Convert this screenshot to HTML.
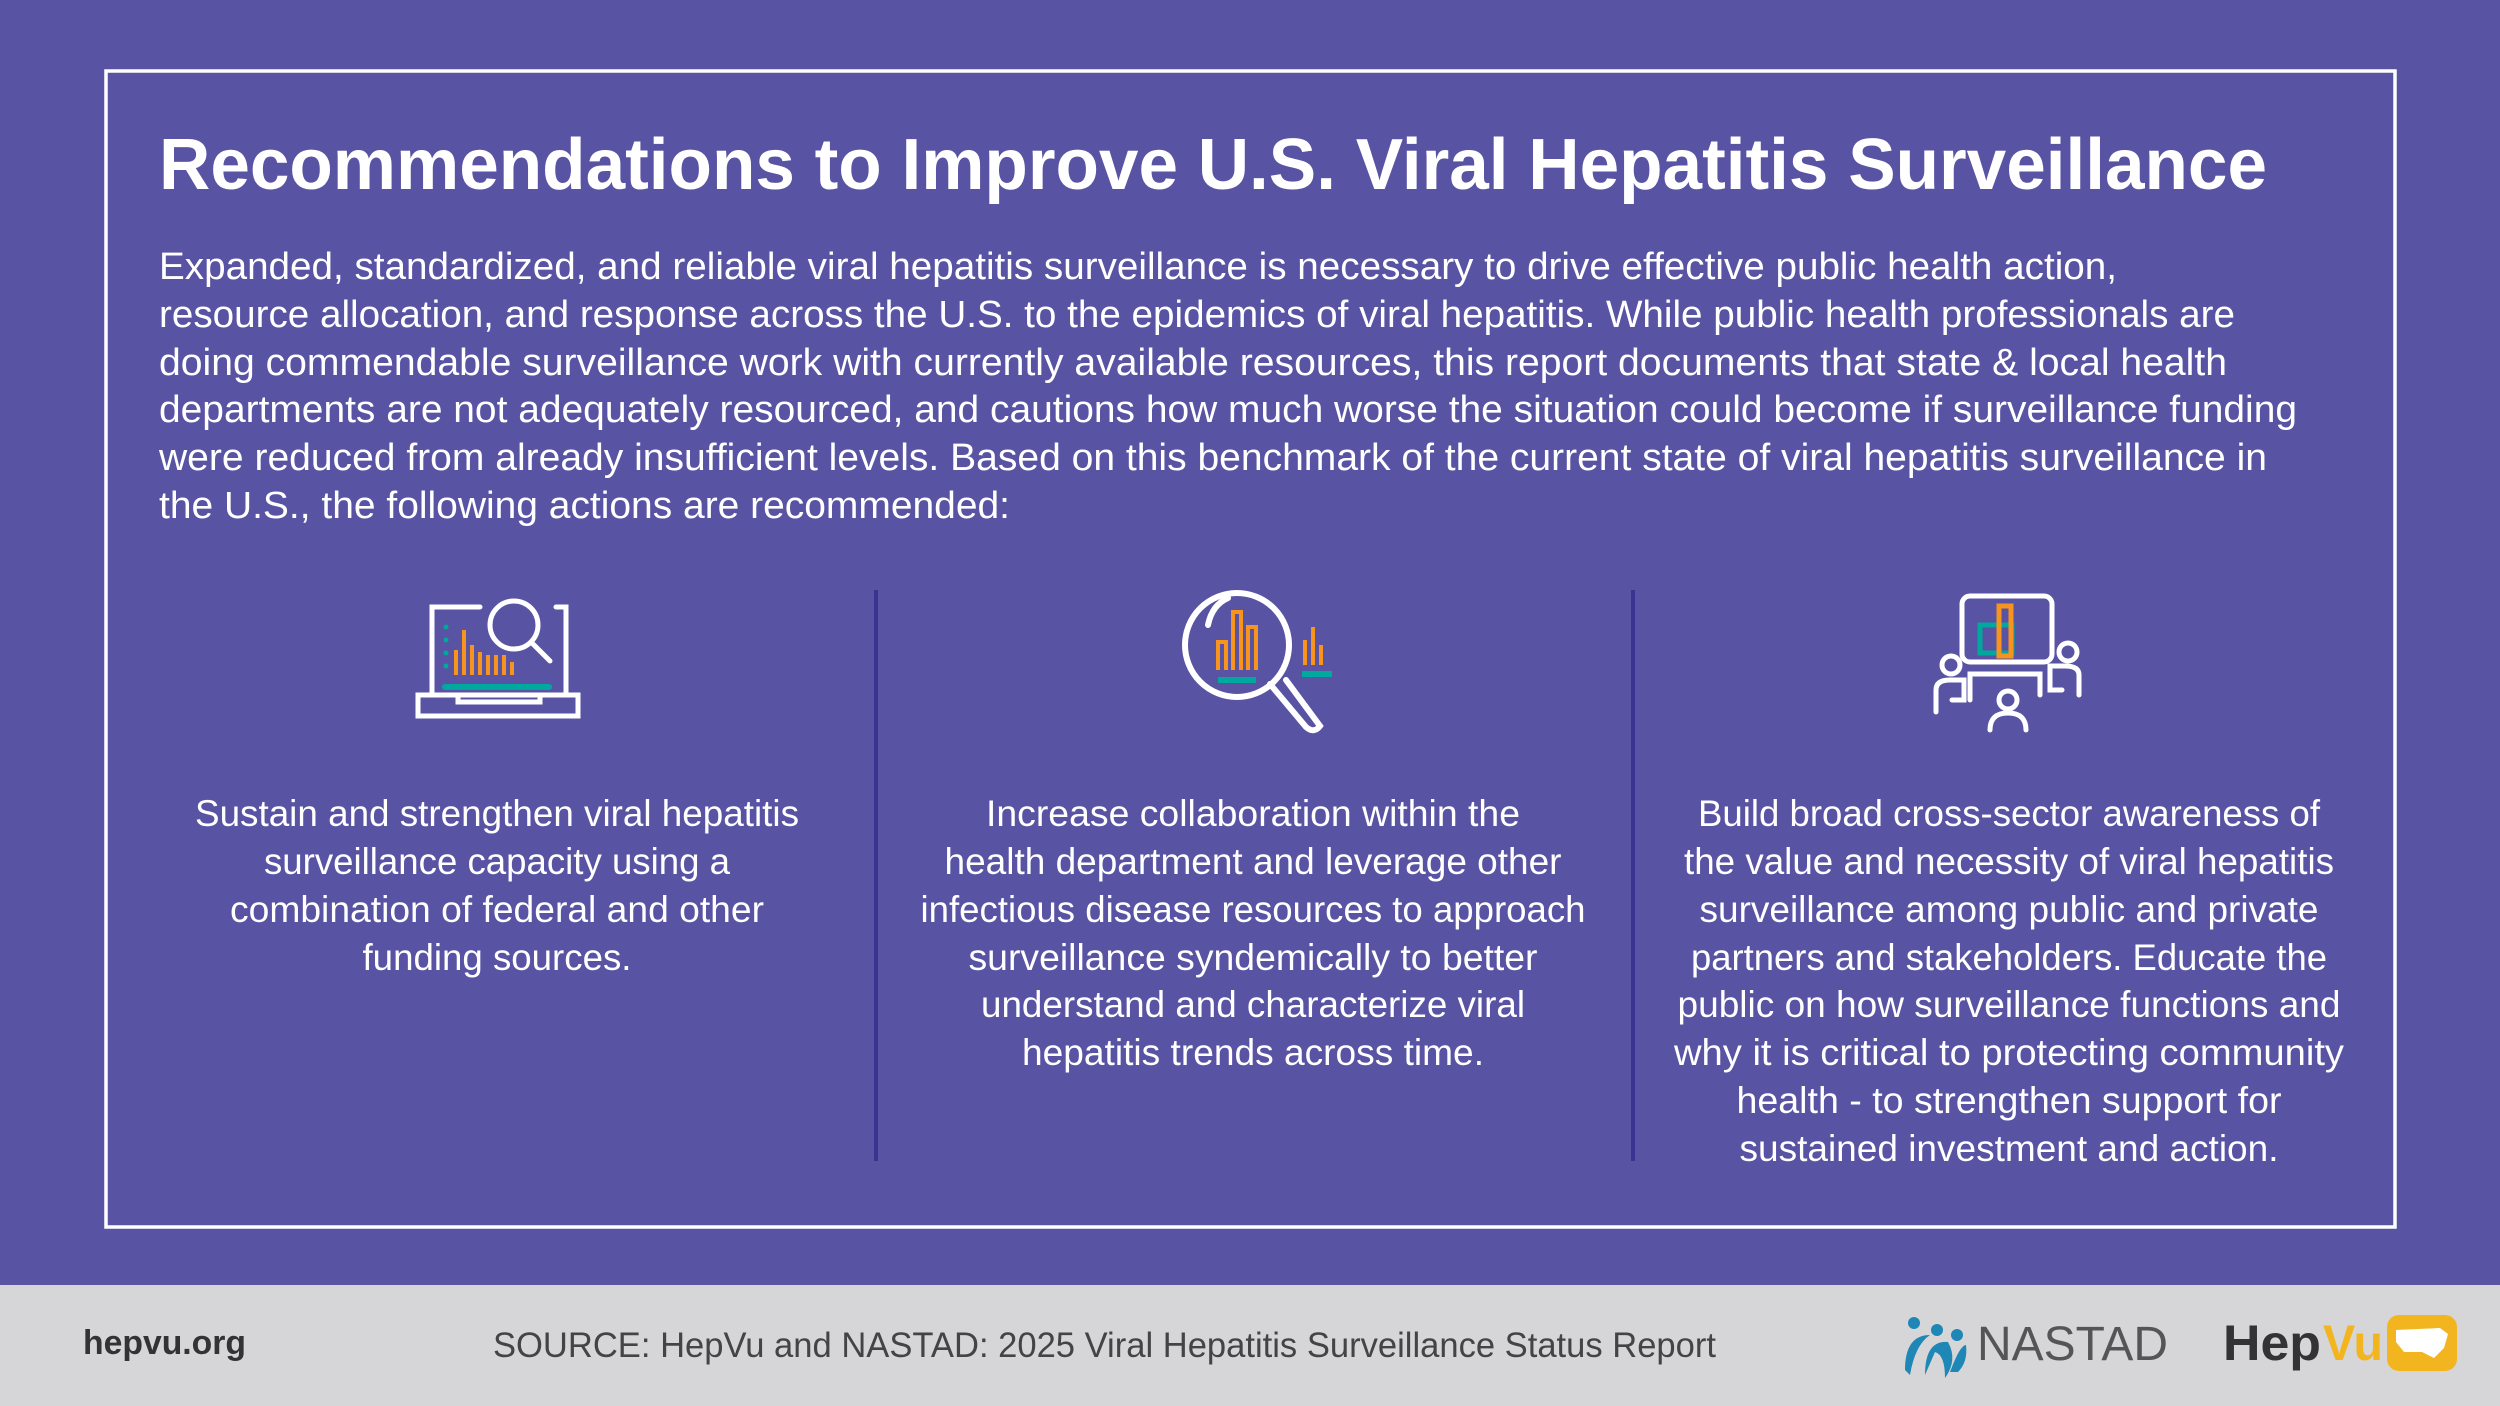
<!DOCTYPE html>
<html><head><meta charset="utf-8"><style>html,body{margin:0;padding:0;background:#5953a4}svg{display:block}</style></head>
<body>
<svg width="2500" height="1406" viewBox="0 0 2500 1406" xmlns="http://www.w3.org/2000/svg" font-family="Liberation Sans, sans-serif">
<rect width="2500" height="1406" fill="#5953a4"/>
<rect x="106" y="71" width="2289" height="1156" fill="none" stroke="#fff" stroke-width="3.5"/>
<text x="159" y="189" font-size="72" font-weight="bold" fill="#fff" textLength="2108" lengthAdjust="spacingAndGlyphs">Recommendations to Improve U.S. Viral Hepatitis Surveillance</text>
<g fill="#fff" font-size="38">
<text x="159" y="279" textLength="1958" lengthAdjust="spacingAndGlyphs">Expanded, standardized, and reliable viral hepatitis surveillance is necessary to drive effective public health action,</text>
<text x="159" y="327" textLength="2076" lengthAdjust="spacingAndGlyphs">resource allocation, and response across the U.S. to the epidemics of viral hepatitis. While public health professionals are</text>
<text x="159" y="375" textLength="2068" lengthAdjust="spacingAndGlyphs">doing commendable surveillance work with currently available resources, this report documents that state &amp; local health</text>
<text x="159" y="422" textLength="2138" lengthAdjust="spacingAndGlyphs">departments are not adequately resourced, and cautions how much worse the situation could become if surveillance funding</text>
<text x="159" y="470" textLength="2108" lengthAdjust="spacingAndGlyphs">were reduced from already insufficient levels.  Based on this benchmark of the current state of viral hepatitis surveillance in</text>
<text x="159" y="518" textLength="851" lengthAdjust="spacingAndGlyphs">the U.S., the following actions are  recommended:</text>
</g>
<line x1="876" y1="590" x2="876" y2="1161" stroke="#3b3390" stroke-width="4"/>
<line x1="1633" y1="590" x2="1633" y2="1161" stroke="#3b3390" stroke-width="4"/>
<g fill="#fff" font-size="37" text-anchor="middle" lengthAdjust="spacingAndGlyphs">
<text x="497" y="826" textLength="604" lengthAdjust="spacingAndGlyphs">Sustain and strengthen viral hepatitis</text>
<text x="497" y="874" textLength="466" lengthAdjust="spacingAndGlyphs">surveillance capacity using a</text>
<text x="497" y="922" textLength="534" lengthAdjust="spacingAndGlyphs">combination of federal and other</text>
<text x="497" y="970" textLength="269" lengthAdjust="spacingAndGlyphs">funding sources.</text>
<text x="1253" y="826" textLength="534" lengthAdjust="spacingAndGlyphs">Increase collaboration within the</text>
<text x="1253" y="874" textLength="617" lengthAdjust="spacingAndGlyphs">health department and leverage other</text>
<text x="1253" y="922" textLength="665" lengthAdjust="spacingAndGlyphs">infectious disease resources to approach</text>
<text x="1253" y="970" textLength="569" lengthAdjust="spacingAndGlyphs">surveillance syndemically to better</text>
<text x="1253" y="1017" textLength="544" lengthAdjust="spacingAndGlyphs">understand and characterize viral</text>
<text x="1253" y="1065" textLength="462" lengthAdjust="spacingAndGlyphs">hepatitis trends across time.</text>
<text x="2009" y="826" textLength="622" lengthAdjust="spacingAndGlyphs">Build broad cross-sector awareness of</text>
<text x="2009" y="874" textLength="650" lengthAdjust="spacingAndGlyphs">the value and necessity of viral hepatitis</text>
<text x="2009" y="922" textLength="619" lengthAdjust="spacingAndGlyphs">surveillance among public and private</text>
<text x="2009" y="970" textLength="636" lengthAdjust="spacingAndGlyphs">partners and stakeholders. Educate the</text>
<text x="2009" y="1017" textLength="663" lengthAdjust="spacingAndGlyphs">public on how surveillance functions and</text>
<text x="2009" y="1065" textLength="670" lengthAdjust="spacingAndGlyphs">why it is critical to protecting community</text>
<text x="2009" y="1113" textLength="545" lengthAdjust="spacingAndGlyphs">health - to strengthen support for</text>
<text x="2009" y="1161" textLength="539" lengthAdjust="spacingAndGlyphs">sustained investment and action.</text>
</g>
<!-- icon 1 laptop -->
<g fill="none" stroke="#fff" stroke-width="5" stroke-linecap="round">
<path d="M480 607 H432 V695 H566 V607 H556"/>
<path d="M418 695 V716 H578 V695 H540 V702 H458 V695 Z"/>
<circle cx="514" cy="625" r="24"/>
<line x1="531" y1="642" x2="550" y2="661"/>
</g>
<g stroke="#f7941d" stroke-width="4">
<line x1="456" y1="650" x2="456" y2="675"/><line x1="464" y1="630" x2="464" y2="675"/><line x1="472" y1="645" x2="472" y2="675"/>
<line x1="480" y1="652" x2="480" y2="675"/><line x1="488" y1="655" x2="488" y2="675"/><line x1="496" y1="655" x2="496" y2="675"/><line x1="504" y1="655" x2="504" y2="675"/><line x1="512" y1="662" x2="512" y2="675"/>
</g>
<g fill="#00a99d"><rect x="442" y="684" width="110" height="6" rx="3"/><circle cx="446" cy="627" r="2.5"/><circle cx="446" cy="640" r="2.5"/><circle cx="446" cy="653" r="2.5"/><circle cx="446" cy="666" r="2.5"/></g>
<!-- icon 2 magnifier -->
<g fill="none" stroke="#fff" stroke-width="6" stroke-linecap="round">
<circle cx="1237" cy="645" r="52"/>
<path d="M1208 625 Q1212 605 1228 598"/>
<path d="M1270 684 L1306 727 Q1314 734 1320 726 L1286 680"/>
</g>
<g fill="none" stroke="#f7941d" stroke-width="4">
<path d="M1218 670 V642 H1226 V670"/><path d="M1233 670 V612 H1241 V670"/><path d="M1248 670 V627 H1256 V670"/>
<line x1="1305" y1="640" x2="1305" y2="665"/><line x1="1313" y1="627" x2="1313" y2="665"/><line x1="1321" y1="645" x2="1321" y2="665"/>
</g>
<g fill="#00a99d"><rect x="1218" y="677" width="38" height="6"/><rect x="1302" y="671" width="30" height="6"/></g>
<!-- icon 3 -->
<g fill="none" stroke="#fff" stroke-width="5" stroke-linecap="round">
<rect x="1962" y="596" width="90" height="66" rx="8"/>
<circle cx="1951" cy="665" r="9"/><path d="M1936 712 V690 Q1936 680 1950 680 H1964 V700 H1952"/>
<circle cx="2068" cy="652" r="9"/><path d="M2079 695 V675 Q2079 666 2065 666 H2050 V690 H2062"/>
<path d="M1970 700 V674 H2040 V695"/>
<circle cx="2008" cy="700" r="9"/><path d="M1990 730 Q1990 713 2008 713 Q2026 713 2026 730"/>
</g>
<rect x="1980" y="625" width="32" height="28" fill="none" stroke="#00a99d" stroke-width="5"/>
<rect x="1999" y="606" width="12" height="50" fill="none" stroke="#f7941d" stroke-width="5"/>
<!-- footer -->
<rect x="0" y="1285" width="2500" height="121" fill="#d6d6d8"/>
<text x="83" y="1354" font-size="34" font-weight="bold" fill="#333" textLength="163" lengthAdjust="spacingAndGlyphs">hepvu.org</text>
<text x="493" y="1357" font-size="35" fill="#444" textLength="1223" lengthAdjust="spacingAndGlyphs">SOURCE: HepVu and NASTAD: 2025 Viral Hepatitis Surveillance Status Report</text>
<g fill="#1e87b5">
<circle cx="1914" cy="1323" r="6"/><circle cx="1937" cy="1330" r="6"/><circle cx="1957" cy="1335" r="6"/>
<path d="M1905 1370 Q1905 1335 1930 1335 Q1915 1345 1910 1375 Z"/>
<path d="M1925 1375 Q1925 1340 1948 1342 Q1958 1360 1945 1378 Q1945 1355 1935 1352 Z"/>
<path d="M1950 1372 Q1960 1345 1966 1345 Q1968 1362 1958 1372 Z"/>
</g>
<text x="1977" y="1360" font-size="48" fill="#555" textLength="191" lengthAdjust="spacingAndGlyphs">NASTAD</text>
<text x="2223" y="1360" font-size="50" font-weight="bold" fill="#333" textLength="98" lengthAdjust="spacingAndGlyphs">Hep</text>
<text x="2323" y="1360" font-size="50" font-weight="bold" fill="#f2b51f" textLength="60" lengthAdjust="spacingAndGlyphs">Vu</text>
<rect x="2387" y="1315" width="70" height="56" rx="12" fill="#f2b51f"/>
<path d="M2396 1330 L2440 1328 L2448 1334 L2444 1348 L2434 1358 L2422 1352 L2404 1352 L2396 1342 Z" fill="#fff"/>
</svg>
</body></html>
